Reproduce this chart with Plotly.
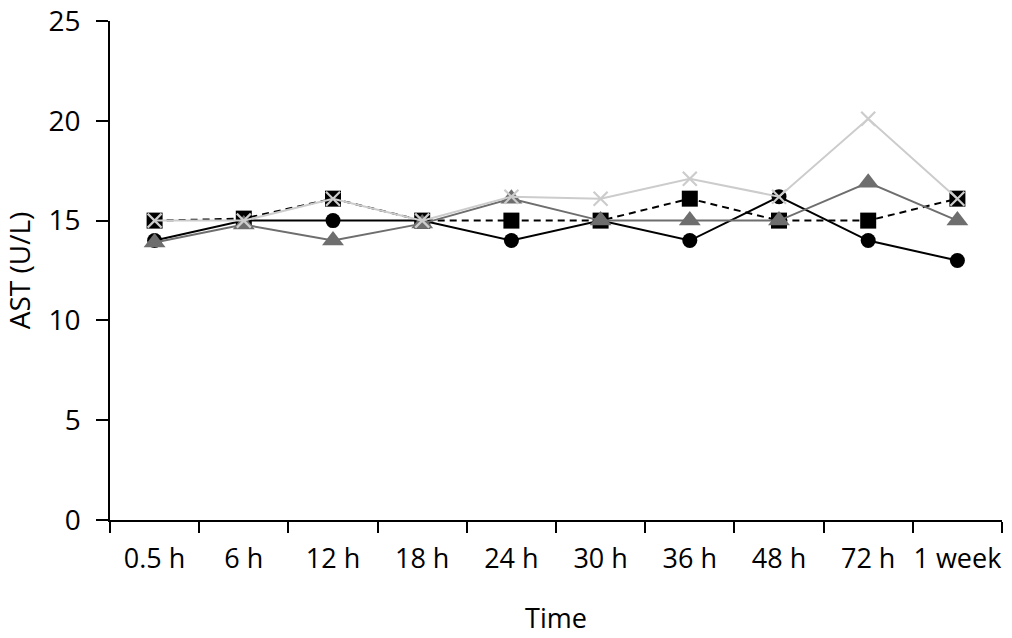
import plotly.graph_objects as go

categories = ["0.5 h", "6 h", "12 h", "18 h", "24 h", "30 h", "36 h", "48 h", "72 h", "1 week"]
circle_vals = [14.0, 15.0, 15.0, 15.0, 14.0, 15.0, 14.0, 16.2, 14.0, 13.0]
square_vals = [15.0, 15.1, 16.1, 15.0, 15.0, 15.0, 16.1, 15.0, 15.0, 16.1]
triangle_vals = [13.9, 14.8, 14.0, 14.85, 16.1, 15.0, 15.0, 15.0, 16.9, 15.0]
cross_vals = [15.0, 15.0, 16.1, 15.0, 16.2, 16.1, 17.1, 16.2, 20.1, 16.1]
y_ticks = [0, 5, 10, 15, 20, 25]

FONT = "Open Sans"

fig = go.Figure()
fig.add_trace(go.Scatter(
    x=categories, y=circle_vals, mode="lines+markers",
    line=dict(color="black", width=2),
    marker=dict(symbol="circle", size=15, color="black"),
))
fig.add_trace(go.Scatter(
    x=categories, y=square_vals, mode="lines+markers",
    line=dict(color="black", width=2, dash="7px,5px"),
    marker=dict(symbol="square", size=16, color="black"),
))
fig.add_trace(go.Scatter(
    x=categories, y=triangle_vals, mode="lines+markers",
    line=dict(color="#6e6e6e", width=2),
    marker=dict(symbol="triangle-up", size=19, color="#6e6e6e"),
))
fig.add_trace(go.Scatter(
    x=categories, y=cross_vals, mode="lines+markers",
    line=dict(color="#cccccc", width=2),
    marker=dict(symbol="x-thin", size=14, color="#cccccc",
                line=dict(color="#cccccc", width=2.2)),
))

fig.update_layout(
    width=1012, height=638,
    margin=dict(l=110, r=10, t=21, b=118),
    paper_bgcolor="white", plot_bgcolor="white",
    showlegend=False,
    font=dict(family=FONT, size=27, color="black"),
)
fig.update_xaxes(
    type="category", categoryorder="array", categoryarray=categories,
    range=[-0.5, 9.5], automargin=False, tickangle=0,
    showline=True, linecolor="black", linewidth=1.5,
    ticks="outside", tickson="boundaries", ticklen=11, tickwidth=1.5, tickcolor="black",
    showgrid=False, zeroline=False, ticklabelstandoff=14, ticklabeloverflow="allow",
    tickfont=dict(family=FONT, size=27),
    title=dict(text="Time", font=dict(family=FONT, size=27), standoff=34),
)
fig.update_yaxes(
    range=[0, 25.001], tickvals=y_ticks, automargin=False,
    showline=True, linecolor="black", linewidth=1.5,
    ticks="outside", ticklen=12, tickwidth=1.5, tickcolor="black",
    showgrid=False, zeroline=False, ticklabelstandoff=10, ticklabeloverflow="allow",
    tickfont=dict(family=FONT, size=28),
    title=dict(text="AST (U/L)", font=dict(family=FONT, size=28), standoff=34),
)

fig.write_html(
    "out.html",
    config={"displayModeBar": False},
    post_script="document.body.style.margin='0';document.body.style.overflow='hidden';",
)
